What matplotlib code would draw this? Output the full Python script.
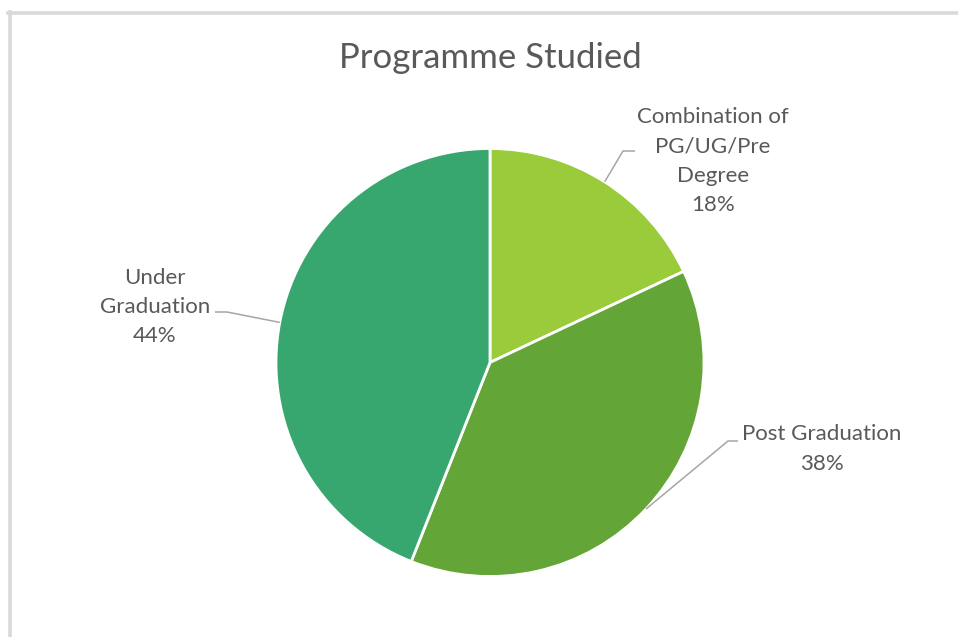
import matplotlib
matplotlib.use("Agg")
import matplotlib.pyplot as plt
import numpy as np

# chart data
programmes = ["Combination of\nPG/UG/Pre\nDegree", "Post Graduation", "Under\nGraduation"]
shares = [18, 38, 44]
colors = ["#9acb3b", "#63a537", "#37a76f"]

# label text centres and elbow points (pixel coords, y from top)
label_pos = [(713, 161), (822, 449), (155, 307)]
elbows = [(623, 151), (728, 441), (227, 312)]
ends = [(635, 151), (738, 441), (215, 312)]

W, H = 958, 637
plt.rcParams['font.family'] = ['Lato', 'DejaVu Sans']
text_color = "#595959"

fig = plt.figure(figsize=(W / 100, H / 100), dpi=100)
ax = fig.add_axes([0, 0, 1, 1])
ax.set_xlim(0, W)
ax.set_ylim(0, H)
ax.set_aspect('equal')
ax.axis('off')

cx, cy, r = 490, H - 362.5, 214
wedges, _ = ax.pie(shares, colors=colors, startangle=90, counterclock=False,
                   center=(cx, cy), radius=r, frame=True,
                   wedgeprops=dict(edgecolor='white', linewidth=2, antialiased=True))
ax.set_xlim(0, W)
ax.set_ylim(0, H)
ax.axis('off')

total = sum(shares)
cum = 0
for i, (name, val) in enumerate(zip(programmes, shares)):
    mid = (cum + val / 2) / total * 2 * np.pi
    cum += val
    sx, sy = cx + r * np.sin(mid), cy + r * np.cos(mid)
    ex, ey = elbows[i]
    tx, ty = ends[i]
    ax.plot([sx, ex, tx], [sy, H - ey, H - ty], color="#a6a6a6", lw=1.1,
            solid_capstyle='butt', zorder=1)
    lx, ly = label_pos[i]
    ax.text(lx, H - ly, f"{name}\n{val}%", ha='center', va='center',
            fontsize=16, color=text_color, linespacing=1.58)

ax.text(490, H - 58, "Programme Studied", ha='center', va='center',
        fontsize=25, color=text_color)

# chart-area border (top and left only visible)
fig.add_artist(plt.Line2D([8 / W, 1], [1 - 13 / H, 1 - 13 / H], color="#d9d9d9", lw=2.6,
                          transform=fig.transFigure))
fig.add_artist(plt.Line2D([10 / W, 10 / W], [0, 1 - 12 / H], color="#d9d9d9", lw=2.6,
                          transform=fig.transFigure))

fig.savefig("out.png", dpi=100)
